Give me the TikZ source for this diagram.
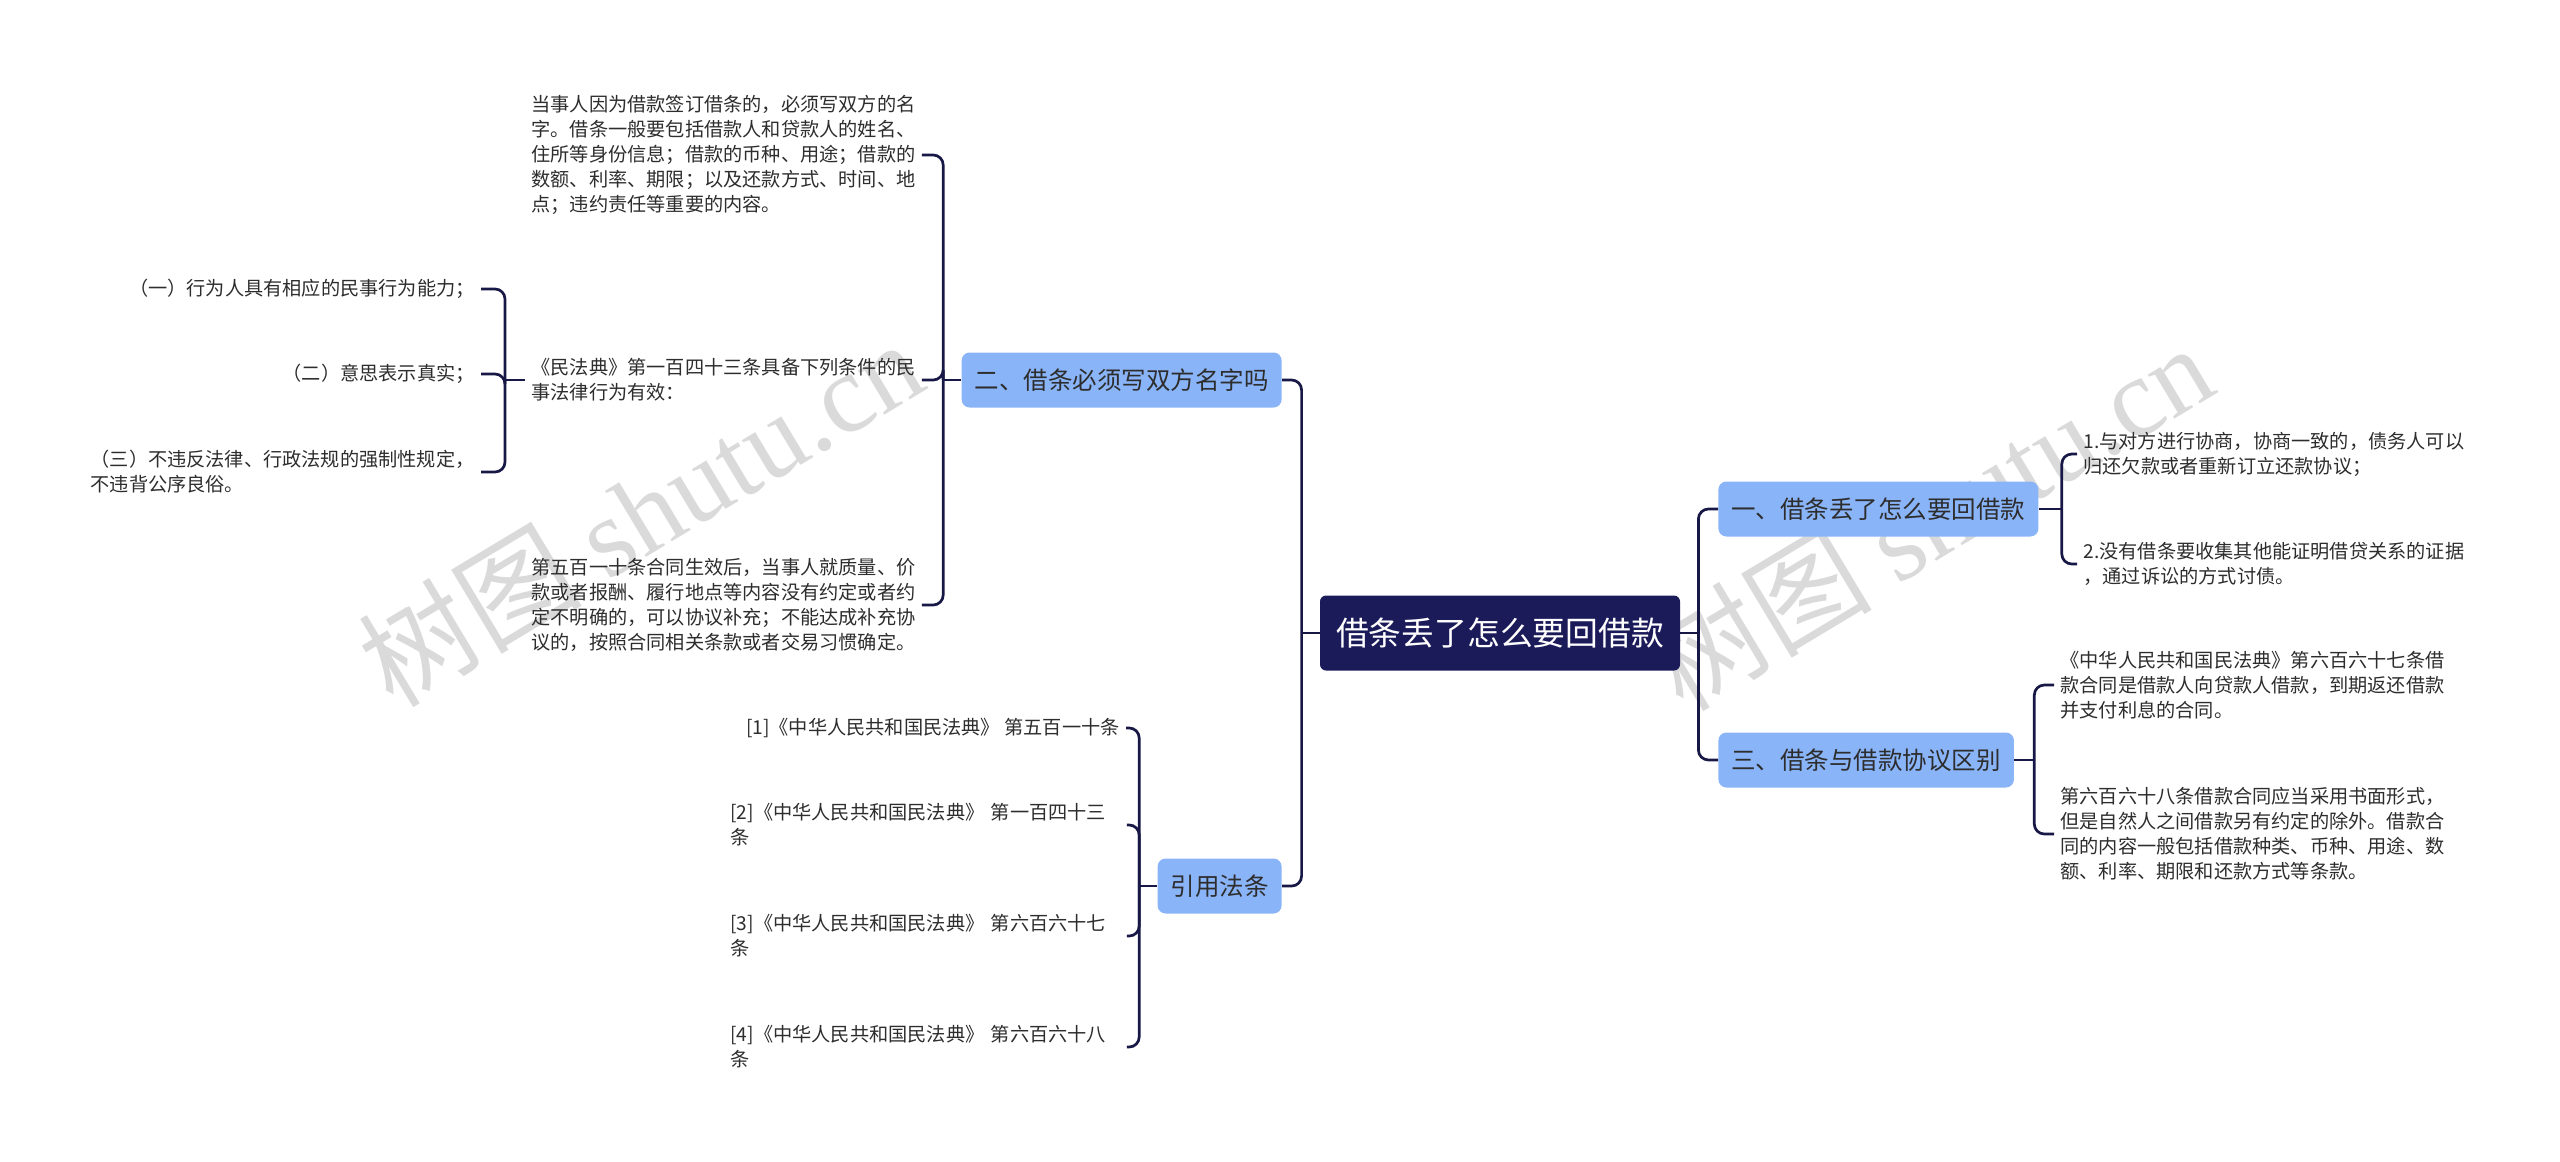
\documentclass[tikz,border=0pt]{standalone}
\usepackage{fontspec}
\setmainfont{Noto Sans CJK SC}
\newfontfamily\wmserif{Liberation Serif}
\usepackage{tikz}
\definecolor{rootnavy}{RGB}{28,27,90}
\definecolor{linknavy}{RGB}{24,24,70}
\definecolor{branchblue}{RGB}{138,180,248}
\definecolor{leafgray}{RGB}{45,45,45}
\definecolor{wmgray}{RGB}{218,218,218}

\begin{document}
\begin{tikzpicture}[x=0.5pt, y=-0.5pt,
				root/.style={fill=rootnavy, text=white, rounded corners=3pt, inner xsep=8pt, inner ysep=0pt, minimum height=37.5pt, font=\fontsize{16.4}{20}\selectfont},
				branch/.style={fill=branchblue, text=leafgray, rounded corners=4pt, inner xsep=6.5pt, inner ysep=0pt, minimum height=27.5pt, font=\fontsize{12.25}{15}\selectfont},
				leaf/.style={text=leafgray, inner sep=3pt, align=left, font=\fontsize{9.6}{12.5}\selectfont},
				link/.style={draw=linknavy, line width=1.35pt, rounded corners=5pt},
				wmark/.style={text=wmgray, font=\fontsize{56}{60}\selectfont, rotate=31}]
				%Bildbereich
				\useasboundingbox (0,0) rectangle (2560,1162);
				% Wasserzeichen
				\node[wmark] (wm1) at (640,512) {树图 {\wmserif shutu.cn}};
				\node[wmark] (wm2) at (1930,516) {树图 {\wmserif shutu.cn}};
				% Hauptknoten
				\node[root] (main) at (1500,633) {借条丢了怎么要回借款};
				\node[branch, anchor=east] (b2) at (1282,380) {二、借条必须写双方名字吗};
				\node[branch, anchor=east] (b4) at (1282,886) {引用法条};
				\node[branch, anchor=west] (b1) at (1718,509) {一、借条丢了怎么要回借款};
				\node[branch, anchor=west] (b3) at (1718,760) {三、借条与借款协议区别};
				% Blaetter links
				\node[leaf, anchor=west] (a1) at (525,155) {当事人因为借款签订借条的，必须写双方的名\\字。借条一般要包括借款人和贷款人的姓名、\\住所等身份信息；借款的币种、用途；借款的\\数额、利率、期限；以及还款方式、时间、地\\点；违约责任等重要的内容。};
				\node[leaf, anchor=west] (a2) at (525,380) {《民法典》第一百四十三条具备下列条件的民\\事法律行为有效：};
				\node[leaf, anchor=west] (a3) at (525,605) {第五百一十条合同生效后，当事人就质量、价\\款或者报酬、履行地点等内容没有约定或者约\\定不明确的，可以协议补充；不能达成补充协\\议的，按照合同相关条款或者交易习惯确定。};
				\node[leaf, anchor=east] (c1) at (481,289) {（一）行为人具有相应的民事行为能力；};
				\node[leaf, anchor=east] (c2) at (481,374) {（二）意思表示真实；};
				\node[leaf, anchor=east] (c3) at (481,472) {（三）不违反法律、行政法规的强制性规定，\\不违背公序良俗。};
				\node[leaf, anchor=east] (r1) at (1126,728) {[1]《中华人民共和国民法典》 第五百一十条};
				\node[leaf, anchor=west, text width=195pt] (r2) at (724,825) {[2]《中华人民共和国民法典》 第一百四十三\\条};
				\node[leaf, anchor=west, text width=195pt] (r3) at (724,936) {[3]《中华人民共和国民法典》 第六百六十七\\条};
				\node[leaf, anchor=west, text width=195pt] (r4) at (724,1047) {[4]《中华人民共和国民法典》 第六百六十八\\条};
				% Blaetter rechts
				\node[leaf, anchor=west] (d1) at (2077,454) {1.与对方进行协商，协商一致的，债务人可以\\归还欠款或者重新订立还款协议；};
				\node[leaf, anchor=west] (d2) at (2077,564) {2.没有借条要收集其他能证明借贷关系的证据\\，通过诉讼的方式讨债。};
				\node[leaf, anchor=west] (e1) at (2054,685) {《中华人民共和国民法典》第六百六十七条借\\款合同是借款人向贷款人借款，到期返还借款\\并支付利息的合同。};
				\node[leaf, anchor=west] (e2) at (2054,834) {第六百六十八条借款合同应当采用书面形式，\\但是自然人之间借款另有约定的除外。借款合\\同的内容一般包括借款种类、币种、用途、数\\额、利率、期限和还款方式等条款。};
				% Verbindungen
				\path (main.west) ++(-18,0) coordinate (sl);
				\path (main.east) ++(18,0) coordinate (sr);
				\path (b2.west) ++(-18,0) coordinate (s2);
				\path (a2.west) ++(-20,0) coordinate (sa);
				\path (b4.west) ++(-18,0) coordinate (s4);
				\path (b1.east) ++(23,0) coordinate (s1);
				\path (b3.east) ++(20,0) coordinate (s3);
				\draw[link] (main.west) -- (sl);
				\draw[link] (main.east) -- (sr);
				\draw[link] (b2.west) -- (s2);
				\draw[link] (a2.west) -- (sa);
				\draw[link] (b4.west) -- (s4);
				\draw[link] (b1.east) -- (s1);
				\draw[link] (b3.east) -- (s3);
				\foreach \n in {b2,b4} \draw[link] (sl) |- (\n.east);
				\foreach \n in {b1,b3} \draw[link] (sr) |- (\n.west);
				\foreach \n in {a1,a2,a3} \draw[link] (s2) |- (\n.east);
				\foreach \n in {c1,c2,c3} \draw[link] (sa) |- (\n.east);
				\foreach \n in {r1,r2,r3,r4} \draw[link] (s4) |- (\n.east);
				\foreach \n in {d1,d2} \draw[link] (s1) |- (\n.west);
				\foreach \n in {e1,e2} \draw[link] (s3) |- (\n.west);
			\end{tikzpicture}
\end{document}
